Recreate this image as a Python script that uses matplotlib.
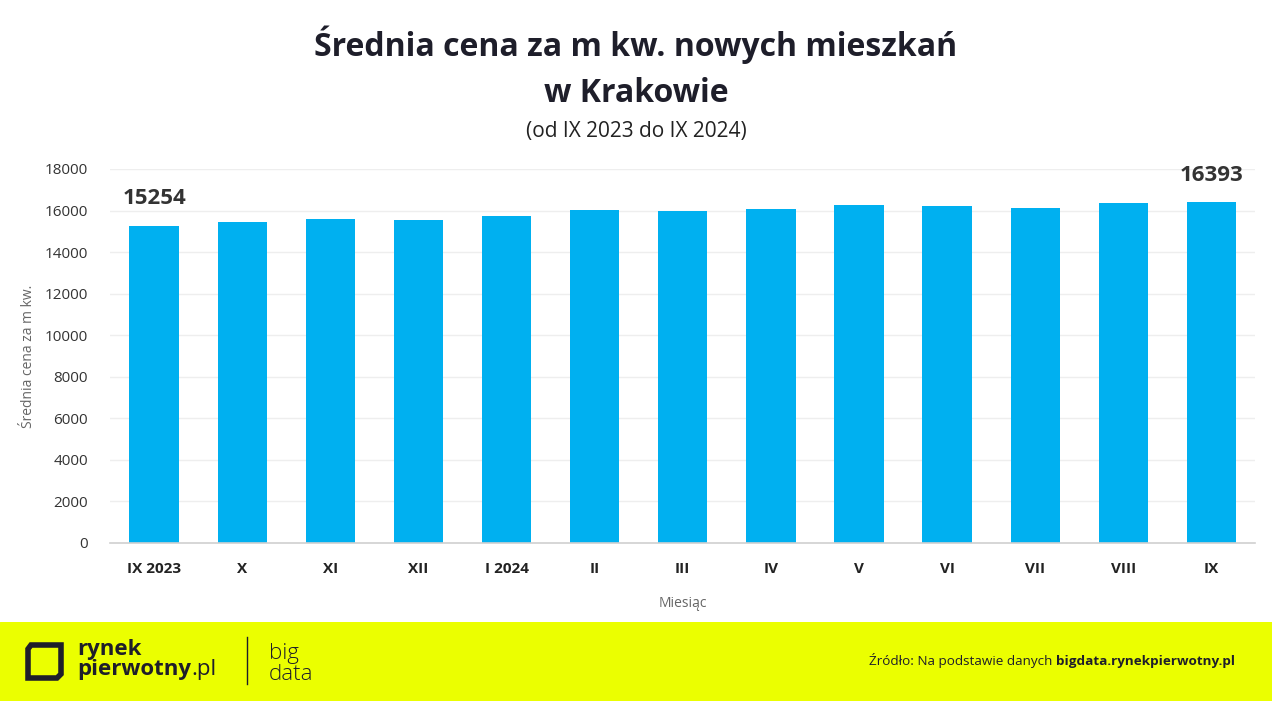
import matplotlib
matplotlib.use("Agg")
import matplotlib.pyplot as plt
from matplotlib.patches import Rectangle, Polygon

plt.rcParams['font.family'] = ['Open Sans', 'DejaVu Sans']

# Dane
miesiace = ['IX 2023', 'X', 'XI', 'XII', 'I 2024', 'II', 'III', 'IV', 'V', 'VI', 'VII', 'VIII', 'IX']
ceny = [15254, 15450, 15600, 15560, 15750, 16030, 15980, 16080, 16270, 16220, 16130, 16360, 16393]
yticks = [0, 2000, 4000, 6000, 8000, 10000, 12000, 14000, 16000, 18000]

fig = plt.figure(figsize=(12.72, 7.01), dpi=100)
fig.patch.set_facecolor('white')

ax = fig.add_axes([0.0865, 0.2254, 0.9005, 0.5336])
x = range(len(miesiace))
ax.bar(x, ceny, width=0.56, color='#00B0F0', zorder=2)

ax.set_xlim(-0.5, len(miesiace) - 0.5)
ax.set_ylim(0, 18000)
ax.set_yticks(yticks)
ax.set_yticklabels([str(t) for t in yticks], fontsize=11, color='#333333')
ax.set_xticks(list(x))
ax.set_xticklabels(miesiace, fontsize=11, fontweight='bold', color='#222222')
ax.tick_params(axis='both', length=0)
ax.tick_params(axis='y', pad=16)
ax.tick_params(axis='x', pad=14)
ax.grid(axis='y', color='#EEEEEE', linewidth=1, zorder=0)
for s in ['top', 'right', 'left']:
    ax.spines[s].set_visible(False)
ax.spines['bottom'].set_color('#D0D0D0')
ax.spines['bottom'].set_linewidth(1.2)

ax.set_xlabel('Miesiąc', fontsize=10, color='#666666', labelpad=14)
ax.set_ylabel('Średnia cena za m kw.', fontsize=10, color='#666666', labelpad=6)

# Etykiety pierwszego i ostatniego słupka
ax.annotate(str(ceny[0]), (0, ceny[0]), xytext=(0, 12), textcoords='offset points',
            ha='center', va='bottom', fontsize=16, fontweight='bold', color='#333333')
ax.annotate(str(ceny[-1]), (len(ceny) - 1, ceny[-1]), xytext=(0, 12), textcoords='offset points',
            ha='center', va='bottom', fontsize=16, fontweight='bold', color='#333333')

# Tytuł
fig.text(0.5, 1 - 45 / 701, 'Średnia cena za m kw. nowych mieszkań', ha='center', va='center',
         fontsize=23, fontweight='bold', color='#1E1E2A')
fig.text(0.5, 1 - 93 / 701, 'w Krakowie', ha='center', va='center',
         fontsize=23, fontweight='bold', color='#1E1E2A')
fig.text(0.5, 1 - 132 / 701, '(od IX 2023 do IX 2024)', ha='center', va='center',
         fontsize=15, color='#222222')

# Stopka
fax = fig.add_axes([0, 0, 1, 79 / 701])
fax.set_xlim(0, 1272)
fax.set_ylim(701, 622)
fax.axis('off')
fax.add_patch(Rectangle((0, 622), 1272, 79, color='#EBFF00'))
icon = Polygon([(31, 645), (61, 645), (61, 674), (57, 678), (28, 678), (28, 649)],
               closed=True, fill=False, edgecolor='#1E1E2A', linewidth=4, joinstyle='miter')
fax.add_patch(icon)
fax.text(77, 650, 'rynek', fontsize=16, fontweight='bold', color='#1E1E2A', va='center')
t_pw = fax.text(77, 670, 'pierwotny', fontsize=16, fontweight='bold', color='#1E1E2A', va='center')
fax.plot([247, 247], [637, 684], color='#1E1E2A', linewidth=1)
fax.text(269, 659, 'big', fontsize=16, fontweight='light', color='#1E1E2A', va='baseline')
fax.text(269, 680, 'data', fontsize=16, fontweight='light', color='#1E1E2A', va='baseline')
t_src = fax.text(1235, 661, 'bigdata.rynekpierwotny.pl', fontsize=9.7, fontweight='bold',
                 color='#1E1E2A', va='center', ha='right')

fig.canvas.draw()
r = fig.canvas.get_renderer()
inv = fax.transData.inverted()
x_pw = inv.transform(t_pw.get_window_extent(r))[1][0]
fax.text(x_pw, 670, '.pl', fontsize=16, color='#1E1E2A', va='center')
x_src = inv.transform(t_src.get_window_extent(r))[0][0]
fax.text(x_src, 661, 'Źródło: Na podstawie danych ', fontsize=9.7, color='#1E1E2A', va='center', ha='right')

fig.savefig('out.png', dpi=100)
